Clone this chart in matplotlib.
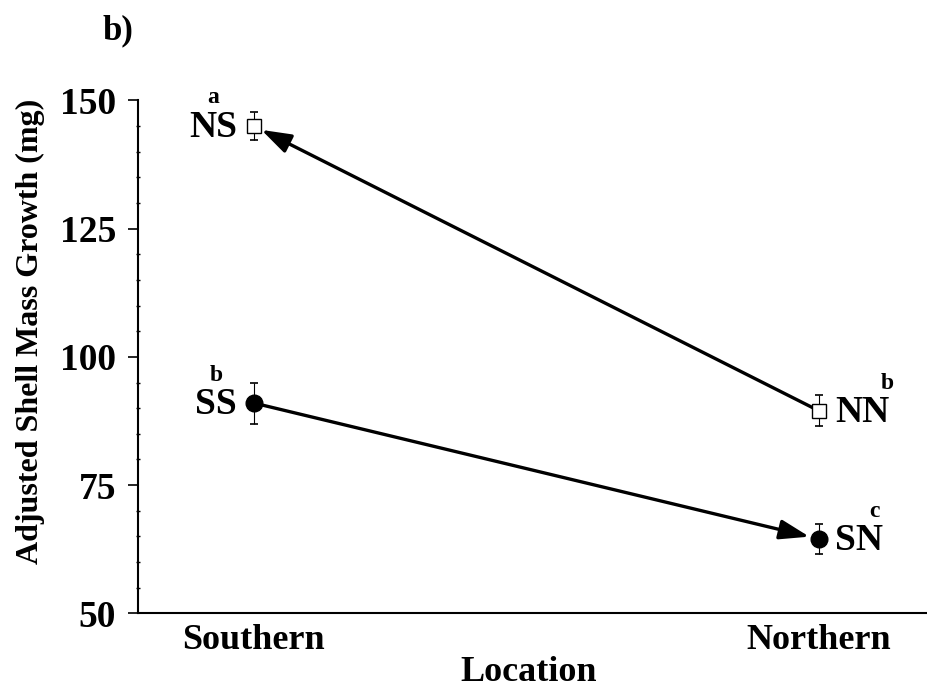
import matplotlib.pyplot as plt

plt.rcParams['font.family'] = 'Liberation Serif'
plt.rcParams['font.weight'] = 'bold'

locations = ['Southern', 'Northern']
ns_nn = [145, 89.5]        # North-origin: at Southern (NS), at Northern (NN)
ns_nn_err = [2.8, 3.0]
ss_sn = [91, 64.5]         # South-origin: at Southern (SS), at Northern (SN)
ss_sn_err = [4.0, 3.0]
group_labels = [['NS', 'NN'], ['SS', 'SN']]
letters = [['a', 'b'], ['b', 'c']]

xs = [0, 1]

fig = plt.figure(figsize=(9.27, 6.93), dpi=100)
ax = fig.add_axes([0.149, 0.115, 0.85, 0.74])

# error bars and markers
ax.errorbar(xs, ns_nn, yerr=ns_nn_err, fmt='s', mfc='white', mec='black', ms=10,
            ecolor='black', elinewidth=0.8, capsize=3, capthick=1.2, zorder=3)
ax.errorbar(xs, ss_sn, yerr=ss_sn_err, fmt='o', color='black', ms=12,
            ecolor='black', elinewidth=0.8, capsize=3, capthick=1.2, zorder=3)

# arrows: NN -> NS, SS -> SN
head = '-|>,head_length=1.8,head_width=0.6'
ax.annotate('', xy=(xs[0], ns_nn[0]), xytext=(xs[1], ns_nn[1]),
            arrowprops=dict(arrowstyle=head, color='black', lw=2.4,
                            shrinkA=5, shrinkB=6))
ax.annotate('', xy=(xs[1], ss_sn[1]), xytext=(xs[0], ss_sn[0]),
            arrowprops=dict(arrowstyle=head, color='black', lw=2.4,
                            shrinkA=6, shrinkB=7))

# group labels and significance letters
for vals, labs in [(ns_nn, group_labels[0]), (ss_sn, group_labels[1])]:
    ax.annotate(labs[0], (xs[0], vals[0]), xytext=(-12, -1), textcoords='offset points',
                ha='right', va='center', fontsize=27, fontweight='bold')
    ax.annotate(labs[1], (xs[1], vals[1]), xytext=(12, -1), textcoords='offset points',
                ha='left', va='center', fontsize=27, fontweight='bold')
ax.annotate(letters[0][0], (xs[0], ns_nn[0]), xytext=(-29, 13), textcoords='offset points',
            ha='center', va='bottom', fontsize=17, fontweight='bold')
ax.annotate(letters[1][0], (xs[0], ss_sn[0]), xytext=(-27, 12), textcoords='offset points',
            ha='center', va='bottom', fontsize=17, fontweight='bold')
ax.annotate(letters[0][1], (xs[1], ns_nn[1]), xytext=(49, 12), textcoords='offset points',
            ha='center', va='bottom', fontsize=17, fontweight='bold')
ax.annotate(letters[1][1], (xs[1], ss_sn[1]), xytext=(40, 12), textcoords='offset points',
            ha='center', va='bottom', fontsize=17, fontweight='bold')

ax.set_xlim(-0.205, 1.19)
ax.set_ylim(50, 150)
ax.set_yticks([50, 75, 100, 125, 150])
ax.set_yticks(range(50, 151, 5), minor=True)
ax.set_xticks(xs)
ax.set_xticklabels(locations, fontsize=26, fontweight='bold')
ax.tick_params(axis='x', length=0, pad=8)
ax.tick_params(axis='y', which='major', labelsize=27, length=7, width=1.2,
               direction='out', pad=9)
ax.tick_params(axis='y', which='minor', length=3, width=1, direction='inout')
for lab in ax.get_yticklabels():
    lab.set_fontweight('bold')

ax.spines['top'].set_visible(False)
ax.spines['right'].set_visible(False)
ax.spines['left'].set_linewidth(1.5)
ax.spines['bottom'].set_linewidth(1.5)

ax.set_xlabel('Location', fontsize=26, fontweight='bold')
ax.xaxis.set_label_coords(0.495, -0.084)
ax.set_ylabel('Adjusted Shell Mass Growth (mg)', fontsize=23, fontweight='bold')
ax.yaxis.set_label_coords(-0.118, 0.549)
fig.text(0.111, 1 - 14 / 693, 'b)', fontsize=25, fontweight='bold', va='top')

fig.savefig('out.png', dpi=100)
